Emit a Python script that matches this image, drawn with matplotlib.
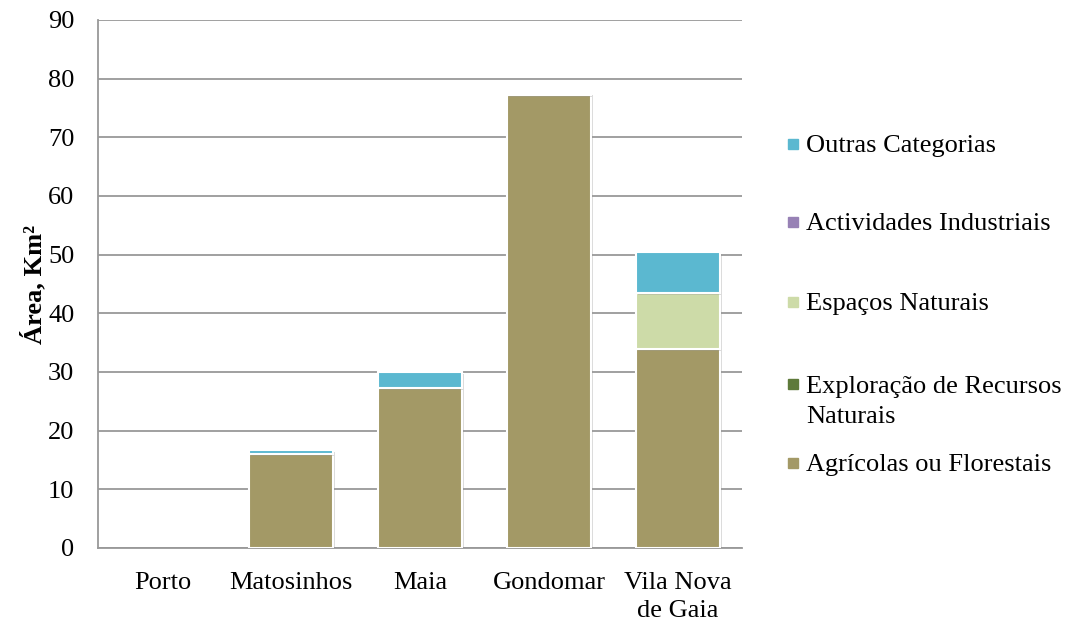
import matplotlib
matplotlib.use("Agg")
import matplotlib.pyplot as plt
from matplotlib.patches import Rectangle
import matplotlib.patheffects as pe
import numpy as np

categories = ["Porto", "Matosinhos", "Maia", "Gondomar", "Vila Nova\nde Gaia"]
agricolas = [0, 16.0, 27.3, 77.2, 33.9]
exploracao = [0, 0, 0, 0, 0]
espacos = [0, 0, 0, 0.4, 9.5]
actividades = [0, 0, 0, 0, 0]
outras = [0, 0.7, 2.7, 0, 7.1]

series_names = ["Agrícolas ou Florestais", "Exploração de Recursos\nNaturais",
                "Espaços Naturais", "Actividades Industriais", "Outras Categorias"]
series_vals = [agricolas, exploracao, espacos, actividades, outras]
colors = ["#A39966", "#5E7A3A", "#CDDBA8", "#9781B5", "#5BB8D0"]

plt.rcParams['font.family'] = ['Liberation Serif', 'DejaVu Serif']
FS = 19

fig = plt.figure(figsize=(10.69, 6.23), dpi=100)
ax = fig.add_axes([0.0917, 0.1204, 0.6025, 0.8476])

x = np.arange(len(categories))
bottom = np.zeros(len(categories))
for vals, c in zip(series_vals, colors):
    v = np.array(vals, dtype=float)
    mask = v > 0
    bars = ax.bar(x[mask], v[mask], bottom=bottom[mask], width=0.65, color=c,
                  edgecolor="white", linewidth=1.5, zorder=3)
    for b in bars:
        b.set_path_effects([pe.SimplePatchShadow(offset=(1.5, -1.5), shadow_rgbFace="#888888", alpha=0.3),
                            pe.Normal()])
    bottom += v

ax.set_xlim(-0.5, len(categories) - 0.5)
ax.set_ylim(0, 90)
ax.set_yticks(np.arange(0, 91, 10))
ax.set_xticks(x)
ax.set_xticklabels(categories, fontsize=FS, linespacing=1.35)
ax.tick_params(axis='y', labelsize=FS, length=0, pad=17)
ax.tick_params(axis='x', length=0, pad=17)
ax.grid(axis='y', color="#999999", linewidth=1.3, zorder=0)
for s in ["top", "right"]:
    ax.spines[s].set_visible(False)
for s in ["left", "bottom"]:
    ax.spines[s].set_color("#999999")
    ax.spines[s].set_linewidth(1.3)
ax.set_ylabel("Área, Km²", fontsize=FS, fontweight="bold", labelpad=1)

# legend (manual)
W, H = 1069, 623
entries = [("Outras Categorias", colors[4], 144),
           ("Actividades Industriais", colors[3], 222),
           ("Espaços Naturais", colors[2], 302),
           ("Exploração de Recursos\nNaturais", colors[1], 384),
           ("Agrícolas ou Florestais", colors[0], 463)]
for label, c, yp in entries:
    sq = 10
    fig.patches.append(Rectangle((788 / W, 1 - (yp + sq / 2) / H), sq / W, sq / H,
                                 transform=fig.transFigure, color=c, figure=fig))
    if "\n" in label:
        fig.text(806 / W, 1 - (yp - 8) / H, label, fontsize=FS, va="top", ha="left",
                 linespacing=1.45)
    else:
        fig.text(806 / W, 1 - (yp + 2) / H, label, fontsize=FS, va="center", ha="left")

fig.savefig("out.png", dpi=100)
